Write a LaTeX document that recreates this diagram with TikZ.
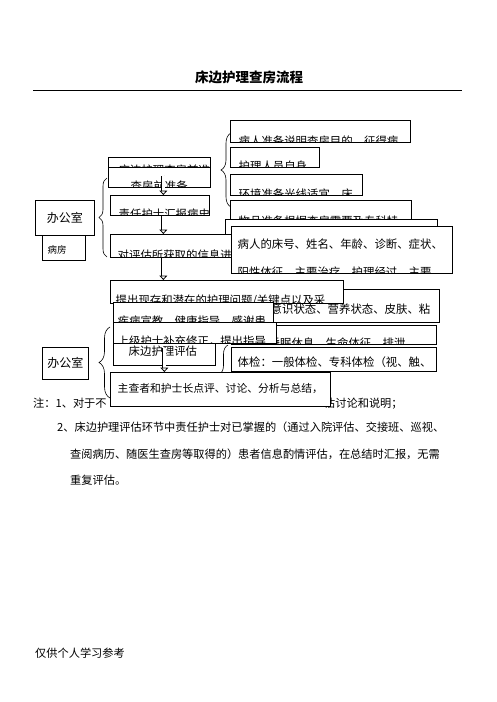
\documentclass[tikz,border=0pt]{standalone}
\usepackage{fontspec}
\setmainfont{Noto Sans CJK SC}
\usetikzlibrary{arrows.meta,decorations.pathreplacing}

\newcommand\boxfont{\fontsize{11.4}{14}\selectfont}
\newcommand\notefont{\fontsize{11.2}{14}\selectfont}

\tikzset{
  tbox/.style={draw, fill=white, anchor=north west, inner sep=0pt, line width=0.7pt},
  cliptxt/.style n args={3}{path picture={
      \node[anchor=base west, inner sep=0pt, minimum size=0pt, font=\boxfont]
        at ([shift={(#2pt,-#3pt)}]path picture bounding box.north west) {#1};}},
  flow/.style={double=white, double distance=2.6pt, line width=0.8pt,
      -{Triangle[open, length=4.5pt, width=8pt]}},
  curly/.style={decorate, decoration={brace, amplitude=#1}, line width=0.6pt},
  note/.style={anchor=base west, inner sep=0pt, font=\notefont},
}

\begin{document}
\begin{tikzpicture}[x=1pt, y=-1pt]
  \useasboundingbox (0,0) rectangle (496,702);

  \node[font=\fontsize{13.5}{16}\selectfont\bfseries] (title) at (249,77.5) {床边护理查房流程};
  \draw[line width=0.8pt] (33,90) -- (462,90);

  % first group
  \node[tbox, minimum width=43, minimum height=25,
        cliptxt={\fontsize{9.5}{11}\selectfont 病房}{5}{18}] (ward) at (42,235) {};
  \node[tbox, minimum width=59, minimum height=35,
        font=\fontsize{12}{14}\selectfont] (office) at (35,200) {办公室};
  \draw[curly=8pt] (107,257) -- (107,178);

  \node[tbox, minimum width=102, minimum height=11,
        cliptxt={床边护理查房前准备}{10}{17}] (preptop) at (108,157) {};
  \node[tbox, minimum width=102, minimum height=20,
        cliptxt={查房前准备}{22}{23}] (prep) at (108,167) {};
  \node[tbox, minimum width=99, minimum height=20,
        cliptxt={责任护士汇报病史}{8}{23}] (duty) at (110,195) {};

  \draw[curly=10pt] (231,207) -- (231,133);
  \node[tbox, minimum width=180, minimum height=22,
        cliptxt={病人准备说明查房目的，征得病}{8}{25}] (patient) at (230,120) {};
  \node[tbox, minimum width=89, minimum height=20,
        cliptxt={护理人员自身}{8}{23}] (nurse) at (230,147) {};
  \node[tbox, minimum width=132, minimum height=21,
        cliptxt={环境准备光线适宜，床}{8}{24}] (room) at (230,174) {};
  \node[tbox, minimum width=181, minimum height=22,
        cliptxt={物品准备根据查房需要及专科特}{8}{25}] (items) at (230,200) {};
  \node[tbox, minimum width=212, minimum height=30] (behind) at (225,219) {};

  \node[tbox, minimum width=123, minimum height=23,
        cliptxt={对评估所获取的信息进行}{7}{25}] (assess) at (110,234) {};
  \node[tbox, minimum width=221, minimum height=47, path picture={
      \node[anchor=base west, inner sep=0pt, minimum size=0pt, font=\boxfont]
        at ([shift={(6pt,-22pt)}]path picture bounding box.north west) {病人的床号、姓名、年龄、诊断、症状、};
      \node[anchor=base west, inner sep=0pt, minimum size=0pt, font=\boxfont]
        at ([shift={(6pt,-50pt)}]path picture bounding box.north west) {阳性体征、主要治疗、护理经过、主要};
    }] (info) at (231,226) {};

  \draw[flow] ([xshift=4pt,yshift=12pt]prep.south) -- ([xshift=3.5pt]duty.north);
  \draw[flow] ([xshift=3.5pt]duty.south) -- ([xshift=-8.5pt]assess.north);

  % second group
  \node[tbox, minimum width=208, minimum height=33,
        cliptxt={意识状态、营养状态、皮肤、粘}{39}{24}] (state) at (231,289) {};
  \node[tbox, minimum width=205, minimum height=19,
        cliptxt={睡眠休息、生命体征、排泄}{37}{22}] (vital) at (231,325) {};
  \node[tbox, minimum width=102, minimum height=45,
        cliptxt={床边护理评估}{15}{35}] (eval) at (113,320) {};
  \node[tbox, minimum width=233, minimum height=23,
        cliptxt={提出现存和潜在的护理问题/关键点以及采}{5}{24}] (raise) at (110,280) {};
  \node[tbox, minimum width=160, minimum height=20,
        cliptxt={疾病宣教、健康指导、感谢患}{4}{23}] (teach) at (113,302) {};
  \node[tbox, minimum width=163, minimum height=21,
        cliptxt={上级护士补充修正，提出指导}{4}{23}] (senior) at (113,322) {};

  \draw[flow] ([xshift=-8.5pt]assess.south) -- ([xshift=-63.5pt]raise.north);

  \draw[curly=11pt] (110,398) -- (110,327);
  \node[tbox, minimum width=46, minimum height=32,
        font=\fontsize{12}{14}\selectfont] (office2) at (42,347) {办公室};

  \draw[curly=9pt] (228,404) -- (228,345);
  \node[tbox, minimum width=205, minimum height=24,
        cliptxt={体检：一般体检、专科体检（视、触、}{6}{19}] (exam) at (231,347) {};

  % notes
  \node[note] (note1a) at (33,407) {注：1、对于不};
  \node[note] (note1b) at (324,407) {估讨论和说明；};
  \node[tbox, minimum width=220, minimum height=34,
        cliptxt={\fontsize{10.8}{13}\selectfont 主查者和护士长点评、讨论、分析与总结，}{7}{20}] (main) at (110,372) {};
  \draw[flow] ([yshift=-5.5pt]eval.center) -- ([xshift=-56pt]main.north);

  \node[note] (note2) at (57,431) {2、床边护理评估环节中责任护士对已掌握的（通过入院评估、交接班、巡视、};
  \node[note] (note3) at (70,458) {查阅病历、随医生查房等取得的）患者信息酌情评估，在总结时汇报，无需};
  \node[note] (note4) at (70,484) {重复评估。};

  \node[note] (foot) at (35,657) {仅供个人学习参考};
\end{tikzpicture}
\end{document}
